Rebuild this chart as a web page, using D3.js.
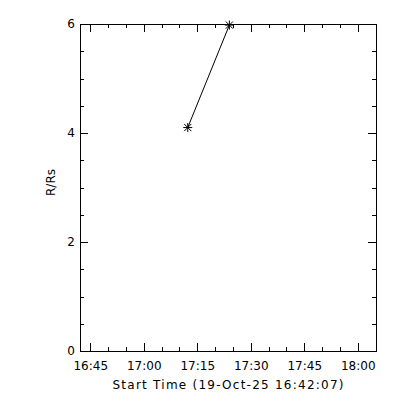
<!DOCTYPE html>
<html>
<head>
<meta charset="utf-8">
<script src="https://cdn.jsdelivr.net/npm/d3@7"></script>
<style>
body { margin: 0; background: #fff; }
text { font-family: "DejaVu Sans", sans-serif; font-size: 12px; fill: #000; }
.axis path, .axis line { stroke: #000; stroke-width: 1; shape-rendering: crispEdges; }
</style>
</head>
<body>
<svg id="chart"></svg>
<script>
var svgw = 400
var svgh = 400

// data
var startTimes = ["2025-10-19T17:12:20Z", "2025-10-19T17:24:00Z"]
var heights = [4.10, 5.98]
var yTicks = [0, 2, 4, 6]
var yMinor = [0.5, 1, 1.5, 2.5, 3, 3.5, 4.5, 5, 5.5]
var xTickLabels = ["16:45", "17:00", "17:15", "17:30", "17:45", "18:00"]
var xMinorLabels = ["16:50", "16:55", "17:05", "17:10", "17:20", "17:25", "17:35", "17:40", "17:50", "17:55", "18:05"]
var timeRange = ["2025-10-19T16:42:07Z", "2025-10-19T18:05:07Z"]
var xTitle = "Start Time (19-Oct-25 16:42:07)"
var yTitle = "R/Rs"

var margins = {left: 80, top: 24, right: 24, bottom: 49}
var graphDim = {width: svgw - margins.left - margins.right, height: svgh - margins.top - margins.bottom}

var toDate = function(s) { return new Date(s) }
var onDay = function(hm) { return new Date("2025-10-19T" + hm + ":00Z") }

var svg = d3.select("#chart")
    .attr("width", svgw)
    .attr("height", svgh)

var target = svg.append("g")
    .attr("transform", "translate(" + margins.left + "," + margins.top + ")")

var xScale = d3.scaleUtc()
    .domain(timeRange.map(toDate))
    .range([0, graphDim.width])

var yScale = d3.scaleLinear()
    .domain([0, 6])
    .range([graphDim.height, 0])

var fmt = d3.utcFormat("%H:%M")

// bottom axis, ticks pointing inward
target.append("g")
    .attr("class", "axis")
    .attr("transform", "translate(0," + graphDim.height + ")")
    .call(d3.axisBottom(xScale).tickValues(xTickLabels.map(onDay)).tickFormat(fmt)
        .tickSizeInner(-8).tickSizeOuter(0).tickPadding(10))
target.append("g")
    .attr("class", "axis")
    .attr("transform", "translate(0," + graphDim.height + ")")
    .call(d3.axisBottom(xScale).tickValues(xMinorLabels.map(onDay)).tickFormat("")
        .tickSizeInner(-4).tickSizeOuter(0))
    .select(".domain").remove()

// top axis, no labels
target.append("g")
    .attr("class", "axis")
    .call(d3.axisTop(xScale).tickValues(xTickLabels.map(onDay)).tickFormat("")
        .tickSizeInner(-8).tickSizeOuter(0))
target.append("g")
    .attr("class", "axis")
    .call(d3.axisTop(xScale).tickValues(xMinorLabels.map(onDay)).tickFormat("")
        .tickSizeInner(-4).tickSizeOuter(0))
    .select(".domain").remove()

// left axis
target.append("g")
    .attr("class", "axis")
    .call(d3.axisLeft(yScale).tickValues(yTicks).tickFormat(d3.format("d"))
        .tickSizeInner(-8).tickSizeOuter(0).tickPadding(5))
target.append("g")
    .attr("class", "axis")
    .call(d3.axisLeft(yScale).tickValues(yMinor).tickFormat("")
        .tickSizeInner(-4).tickSizeOuter(0))
    .select(".domain").remove()

// right axis
target.append("g")
    .attr("class", "axis")
    .attr("transform", "translate(" + graphDim.width + ",0)")
    .call(d3.axisRight(yScale).tickValues(yTicks).tickFormat("")
        .tickSizeInner(-8).tickSizeOuter(0))
target.append("g")
    .attr("class", "axis")
    .attr("transform", "translate(" + graphDim.width + ",0)")
    .call(d3.axisRight(yScale).tickValues(yMinor).tickFormat("")
        .tickSizeInner(-4).tickSizeOuter(0))
    .select(".domain").remove()

target.selectAll(".axis text")
    .style("font-family", "DejaVu Sans, sans-serif")
    .style("font-size", "12px")
    .attr("fill", "#000")

// line + asterisks
var points = startTimes.map(function(t, i) { return {t: toDate(t), h: heights[i]} })

var line = d3.line()
    .x(function(d) { return xScale(d.t) })
    .y(function(d) { return yScale(d.h) })

target.append("path")
    .datum(points)
    .attr("d", line)
    .attr("fill", "none")
    .attr("stroke", "#000")
    .attr("stroke-width", 1)

// IDL style asterisk: +, x together
var starType = {
    draw: function(context, size) {
        var r = Math.sqrt(size) / 2
        var s = r * 0.8
        context.moveTo(-r, 0); context.lineTo(r, 0)
        context.moveTo(0, -r); context.lineTo(0, r)
        context.moveTo(-s, -s); context.lineTo(s, s)
        context.moveTo(-s, s); context.lineTo(s, -s)
    }
}

target.selectAll(".star")
    .data(points)
    .enter()
    .append("path")
    .attr("class", "star")
    .attr("transform", function(d) { return "translate(" + xScale(d.t) + "," + yScale(d.h) + ")" })
    .attr("d", d3.symbol().type(starType).size(81))
    .attr("fill", "none")
    .attr("stroke", "#000")
    .attr("stroke-width", 1)

// labels
target.append("text")
    .text(xTitle)
    .attr("text-anchor", "middle")
    .attr("x", graphDim.width / 2)
    .attr("y", graphDim.height + 38)
    .attr("textLength", 231)
    .attr("lengthAdjust", "spacing")

target.append("text")
    .attr("transform", "translate(-25," + (graphDim.height / 2 - 5) + ") rotate(-90)")
    .text(yTitle)
    .attr("text-anchor", "middle")
</script>
</body>
</html>
